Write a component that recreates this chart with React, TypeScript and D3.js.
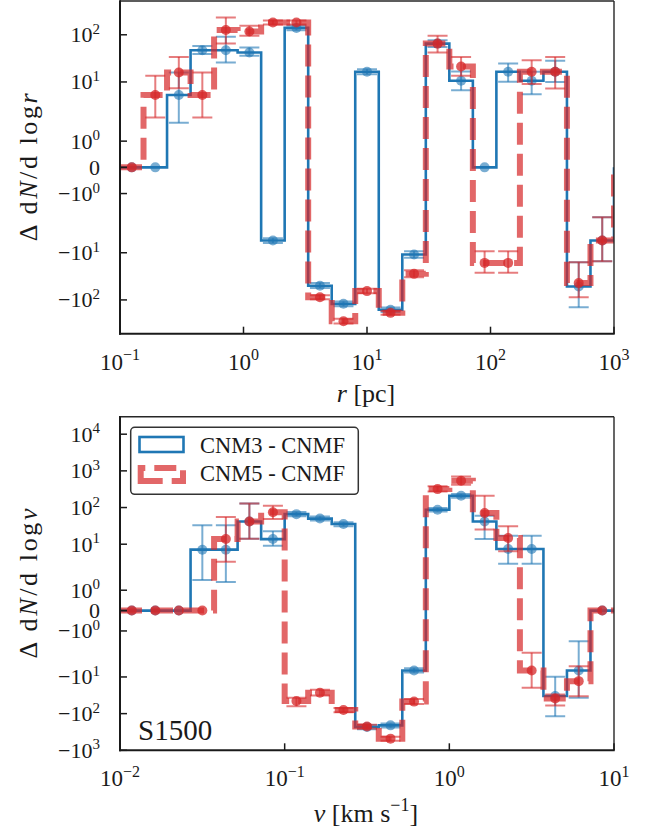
import React from "react";
import * as d3 from "d3";

// ---- bin edges (log-spaced) ----
const rEdges = [0.1, 0.15505, 0.24041, 0.37276, 0.57797, 0.89614, 1.3895, 2.15443, 3.34048, 5.17947, 8.03085, 12.452, 19.307, 29.9358, 46.4159, 71.9686, 111.589, 173.019, 268.27, 415.956, 644.946, 1000];
const vEdges = [0.01, 0.013895, 0.019307, 0.026827, 0.037276, 0.051795, 0.071969, 0.1, 0.13895, 0.19307, 0.26827, 0.37276, 0.51795, 0.71969, 1.0, 1.3895, 1.9307, 2.6827, 3.7276, 5.1795, 7.1969, 10];

// ---- size distribution differences ----
const rCnm3 = [0, 0, 5.3, 47, 47, 42, -5.5, 140, -50, -121, 16.5, -162, -10.9, 65, 10.6, 0, 16.5, 10.6, 16.5, -52, -5.5];
const rCnm3Lo = [null, null, 1.7, 39, 26, 36, -6.2, 125, -56, -136, 14.5, -180, -12.8, 55, 6.7, null, 10.1, 5.5, 10, -143, -15.2];
const rCnm3Hi = [null, null, 15.9, 58, 91, 54, -4.9, 157, -44, -108, 18.5, -145, -9.3, 77, 16.7, null, 24.7, 16.5, 28, -16, -1.9];
const rCnm5 = [0, 5.3, 15.9, 5.3, 126, 117, 182, 182, -88, -282, -65, -188, -28, 65, 21.3, -16.4, -16.4, 16.5, 16.5, -44, -5.5];
const rCnm5Lo = [null, 1.9, 7.4, 1.9, 65, 95, 165, 165, -97, -315, -72, -205, -33, 42, 13.5, -26.7, -26.7, 9, 7.3, -88, -15.2];
const rCnm5Hi = [null, 13.5, 34, 15.9, 232, 155, 200, 200, -80, -252, -58, -172, -23.5, 95, 34, -9.3, -9.3, 29, 34, -16, -1.9];

// ---- velocity distribution differences ----
const vCnm3 = [0, 0, 0, 7.1, 7.1, 41.7, 13.8, 66, 50, 35.5, -232, -209, -6.65, 87, 209, 41.7, 7.4, 7.4, -33, -6.65, 0];
const vCnm3Lo = [null, null, null, 1.5, 1.4, 14, 9.1, 58, 44, 31, -265, -240, -7.6, 78, 185, 13.9, 2.95, 2.95, -117, -37, null];
const vCnm3Hi = [null, null, null, 32.7, 33, 128, 22.4, 75, 57, 40, -205, -185, -5.8, 97, 235, 60, 17.1, 17.1, -9.9, -1.5, null];
const vCnm5 = [0, 0, 0, 0, 13.9, 41.7, 74, -45, -27, -80, -225, -481, -47, 318, 535, 70.6, 14.8, -6.65, -38.5, -13, 0];
const vCnm5Lo = [null, null, null, null, 3.3, 14, 49, -63, -32, -92, -255, -545, -55, 275, 420, 25, 6.4, -19.8, -60, -33.5, null];
const vCnm5Hi = [null, null, null, null, 55, 128, 112, -37, -22.5, -70, -200, -425, -40, 378, 706, 211, 30.7, -2.2, -30, -5.1, null];

// ---- axis ticks ----
const rTicks = [0.1, 1, 10, 100, 1000];
const vTicks = [0.01, 0.1, 1, 10];
const rYTicks = [-100, -10, -1, 0, 1, 10, 100];
const vYTicks = [-1000, -100, -10, -1, 0, 1, 10, 100, 1000, 10000];

const seriesNames = ["CNM3 - CNMF", "CNM5 - CNMF"];

const BLUE = "#1f77b4";
const RED = "#d62728";
const INK = "#1a1a1a";
const FONT = "'Liberation Serif', 'DejaVu Serif', serif";

// symmetric log transform (base 10, linthresh 2, linscale 1)
const LT = 2;
const LS = 1 / (1 - 1 / 10);
function symlog(v: number) {
  const a = Math.abs(v);
  if (a <= LT) return v * LS;
  return Math.sign(v) * LT * (LS + Math.log10(a / LT));
}

const LEFT = 120;
const RIGHT = 614;

function expLabel(e: number) {
  return e < 0 ? "\u2212" + Math.abs(e) : String(e);
}

type Series = { v: number[]; lo: (number | null)[]; hi: (number | null)[] };

type PanelProps = {
  edges: number[];
  xDomain: [number, number];
  yDomain: [number, number];
  top: number;
  bottom: number;
  xTicks: number[];
  yTicks: number[];
  blue: Series;
  red: Series;
  id: string;
};

function Panel(p: PanelProps) {
  const x = d3.scaleLog().domain(p.xDomain).range([LEFT, RIGHT]);
  const yl = d3.scaleLinear().domain([symlog(p.yDomain[0]), symlog(p.yDomain[1])]).range([p.bottom, p.top]);
  const y = (v: number) => yl(symlog(v));
  const centers = p.edges.slice(0, -1).map((e, i) => Math.sqrt(e * p.edges[i + 1]));

  const stairs = (vals: number[]) => {
    const pts: [number, number][] = [[x(p.edges[0]), y(0)]];
    vals.forEach((v, i) => {
      pts.push([x(p.edges[i]), y(v)]);
      pts.push([x(p.edges[i + 1]), y(v)]);
    });
    pts.push([x(p.edges[p.edges.length - 1]), y(0)]);
    return d3.line()(pts) as string;
  };

  const errs = (s: Series, color: string, mAlpha: number) => (
    <g>
      {s.v.map((v, i) => {
        const cx = x(centers[i]);
        const lo = s.lo[i];
        const hi = s.hi[i];
        return (
          <g key={i}>
            {lo !== null && hi !== null && (
              <g stroke={color} strokeOpacity={0.6} strokeWidth={2}>
                <line x1={cx} x2={cx} y1={y(lo)} y2={y(hi)} />
                <line x1={cx - 10} x2={cx + 10} y1={y(lo)} y2={y(lo)} />
                <line x1={cx - 10} x2={cx + 10} y1={y(hi)} y2={y(hi)} />
              </g>
            )}
            <circle cx={cx} cy={y(v)} r={5} fill={color} fillOpacity={mAlpha} />
          </g>
        );
      })}
    </g>
  );

  return (
    <g>
      <defs>
        <clipPath id={p.id}>
          <rect x={LEFT} y={p.top} width={RIGHT - LEFT} height={p.bottom - p.top} />
        </clipPath>
      </defs>
      <g clipPath={`url(#${p.id})`}>
        <path d={stairs(p.blue.v)} fill="none" stroke={BLUE} strokeWidth={2.6} />
        {errs(p.blue, BLUE, 0.6)}
        <path d={stairs(p.red.v)} fill="none" stroke={RED} strokeOpacity={0.7} strokeWidth={6} strokeDasharray="22 9" />
        {errs(p.red, RED, 0.75)}
      </g>
      {/* frame */}
      <line x1={LEFT} x2={RIGHT} y1={p.top} y2={p.top} stroke="#262626" strokeWidth={1.4} />
      <line x1={RIGHT} x2={RIGHT} y1={p.top} y2={p.bottom} stroke="#262626" strokeWidth={1.4} />
      <line x1={LEFT} x2={LEFT} y1={p.top - 0.7} y2={p.bottom + 1} stroke={INK} strokeWidth={2} />
      <line x1={LEFT - 1} x2={RIGHT + 0.7} y1={p.bottom} y2={p.bottom} stroke={INK} strokeWidth={2} />
      {/* x ticks */}
      {p.xTicks.map((t) => (
        <g key={t}>
          <line x1={x(t)} x2={x(t)} y1={p.bottom} y2={p.bottom - 7} stroke={INK} strokeWidth={1.5} />
          <text x={x(t)} y={p.bottom + 36} textAnchor="middle" fontFamily={FONT} fontSize={23} fill={INK}>
            10<tspan dy={-9.5} fontSize={16}>{expLabel(Math.round(Math.log10(t)))}</tspan>
          </text>
        </g>
      ))}
      {/* y ticks */}
      {p.yTicks.map((t) => (
        <g key={t}>
          <line x1={LEFT} x2={LEFT + 7} y1={y(t)} y2={y(t)} stroke={INK} strokeWidth={1.5} />
          <text x={100} y={y(t) + 7.5} textAnchor="end" fontFamily={FONT} fontSize={22} fill={INK}>
            {t === 0 ? (
              "0"
            ) : (
              <>
                {t < 0 ? "\u221210" : "10"}
                <tspan dy={-8.5} fontSize={15}>{Math.round(Math.log10(Math.abs(t)))}</tspan>
              </>
            )}
          </text>
        </g>
      ))}
    </g>
  );
}

export default function App() {
  const topY0 = 1;
  const topY1 = 333.7;
  const botY0 = 416.7;
  const botY1 = 750.3;
  return (
    <svg width={652} height={835} style={{ position: "absolute", left: 0, top: 0, background: "#fff" }}>
      <rect width={652} height={835} fill="#fff" />
      <Panel
        id="clipR"
        edges={rEdges}
        xDomain={[0.1, 1000]}
        yDomain={[-520, 520]}
        top={topY0}
        bottom={topY1}
        xTicks={rTicks}
        yTicks={rYTicks}
        blue={{ v: rCnm3, lo: rCnm3Lo, hi: rCnm3Hi }}
        red={{ v: rCnm5, lo: rCnm5Lo, hi: rCnm5Hi }}
      />
      <Panel
        id="clipV"
        edges={vEdges}
        xDomain={[0.01, 10]}
        yDomain={[-1000, 30000]}
        top={botY0}
        bottom={botY1}
        xTicks={vTicks}
        yTicks={vYTicks}
        blue={{ v: vCnm3, lo: vCnm3Lo, hi: vCnm3Hi }}
        red={{ v: vCnm5, lo: vCnm5Lo, hi: vCnm5Hi }}
      />

      {/* axis labels */}
      <text x={366} y={402} textAnchor="middle" fontFamily={FONT} fontSize={26} fill={INK}>
        <tspan fontFamily={FONT} fontStyle="italic">r</tspan> [pc]
      </text>
      <text x={366} y={822} textAnchor="middle" fontFamily={FONT} fontSize={26} fill={INK}>
        <tspan fontFamily={FONT} fontStyle="italic">v</tspan> [km s<tspan dy={-11} fontSize={18}>{"\u22121"}</tspan>
        <tspan dy={11}>]</tspan>
      </text>
      <text transform={`translate(37,${(topY0 + topY1) / 2}) rotate(-90)`} textAnchor="middle" fontFamily={FONT} fontSize={26} fill={INK} textLength={148}>
        Δ d<tspan fontFamily={FONT} fontStyle="italic">N</tspan>/d log<tspan fontFamily={FONT} fontStyle="italic">r</tspan>
      </text>
      <text transform={`translate(37,${(botY0 + botY1) / 2}) rotate(-90)`} textAnchor="middle" fontFamily={FONT} fontSize={26} fill={INK} textLength={150}>
        Δ d<tspan fontFamily={FONT} fontStyle="italic">N</tspan>/d log<tspan fontFamily={FONT} fontStyle="italic">v</tspan>
      </text>

      {/* run tag */}
      <text x={138} y={740} fontFamily={FONT} fontSize={29} fill={INK}>S1500</text>

      {/* legend */}
      <g>
        <rect x={130.7} y={427.3} width={227.6} height={67} rx={4} fill="#fff" fillOpacity={0.9} stroke="#333" strokeWidth={1.5} />
        <rect x={139.5} y={437} width={44} height={15} fill="none" stroke={BLUE} strokeWidth={2.6} />
        <path d="M140.7,481 L183,481 L183,468 L140.7,468 Z" fill="none" stroke={RED} strokeOpacity={0.7} strokeWidth={6} strokeDasharray="22 9" />
        <text x={200} y={452.5} fontFamily={FONT} fontSize={22.5} fill={INK}>{seriesNames[0]}</text>
        <text x={200} y={480.5} fontFamily={FONT} fontSize={22.5} fill={INK}>{seriesNames[1]}</text>
      </g>
    </svg>
  );
}
